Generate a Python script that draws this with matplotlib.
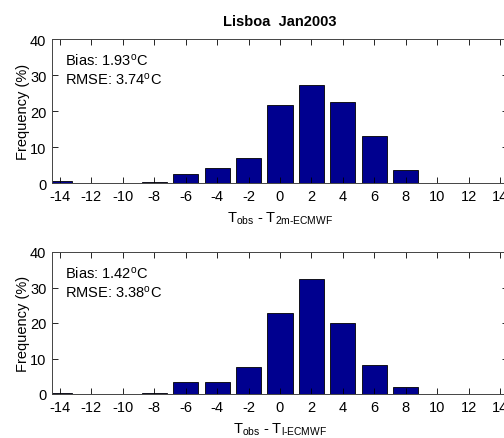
"""Histogramas de errores de temperatura (Lisboa, enero 2003)."""

import matplotlib.pyplot as plt

# DATOS

bins = [-14, -12, -10, -8, -6, -4, -2, 0, 2, 4, 6, 8, 10, 12, 14]
freq_2m = [0.5, 0, 0, 0.4, 2.4, 4.1, 6.9, 21.6, 27.2, 22.4, 13.1, 3.5, 0, 0, 0]
freq_l = [0.4, 0, 0, 0.4, 3.3, 3.3, 7.5, 22.7, 32.5, 20.0, 8.1, 2.1, 0, 0, 0]
stats_2m = ("1.93", "3.74")
stats_l = ("1.42", "3.38")
xlabels = [r"T$_{\rm obs}$ - T$_{\rm 2m\text{-}ECMWF}$", r"T$_{\rm obs}$ - T$_{\rm l\text{-}ECMWF}$"]

plt.rcParams["font.family"] = ["Liberation Sans", "DejaVu Sans"]
plt.rcParams["mathtext.fontset"] = "custom"
plt.rcParams["mathtext.rm"] = "Liberation Sans"
plt.rcParams["mathtext.it"] = "Liberation Sans"
plt.rcParams["mathtext.default"] = "regular"

W, H = 504, 439
fig = plt.figure(figsize=(W / 100, H / 100), dpi=100)


def px_axes(left, top, right, bottom):
    return fig.add_axes([left / W, 1 - bottom / H, (right - left) / W, (bottom - top) / H])


def draw_panel(ax, values, stats, xlabel):
    ax.bar(bins, values, width=1.6, color="#00008f", edgecolor="black", linewidth=0.6)
    ax.set_xlim(-14.5, 14.5)
    ax.set_ylim(0, 40)
    ax.set_xticks(bins)
    ax.set_xticklabels([str(b) for b in bins])
    ax.set_yticks([0, 10, 20, 30, 40])
    ax.tick_params(direction="in", top=True, right=True, labelsize=10.5, length=4, width=0.6, pad=4)
    for sp in ax.spines.values():
        sp.set_linewidth(0.7)
        sp.set_color("#444444")
    ax.set_ylabel("Frequency (%)", fontsize=10.5, labelpad=0)
    ax.set_xlabel(xlabel, fontsize=10.5, labelpad=5)
    ax.text(0.028, 0.79, "Bias: %s$^o$C\nRMSE: %s$^o$C" % stats, transform=ax.transAxes,
            fontsize=10.5, va="center", ha="left", linespacing=1.25)


ax1 = px_axes(52, 40, 508, 184)
draw_panel(ax1, freq_2m, stats_2m, xlabels[0])
ax1.set_title("Lisboa  Jan2003", fontsize=10.5, fontweight="bold", pad=10)

ax2 = px_axes(52, 253, 508, 395)
draw_panel(ax2, freq_l, stats_l, xlabels[1])

fig.savefig("out.png", dpi=100)
